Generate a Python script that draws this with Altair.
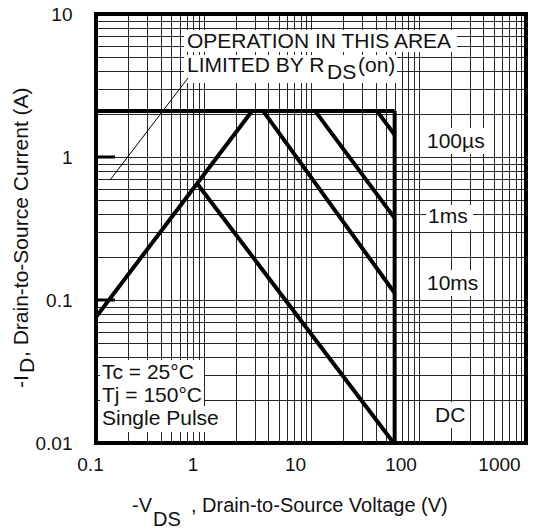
import altair as alt
import pandas as pd

# ---------------- data ----------------
limit_current = 2.1          # A, horizontal current limit
limit_voltage = 60           # V, vertical voltage limit
rds_v = [0.1, 2.83]
rds_i = [0.076, 2.1]
us100_v = [41, 60]
us100_i = [2.1, 1.43]
ms1_v = [10.9, 60]
ms1_i = [2.1, 0.374]
ms10_v = [3.58, 60]
ms10_i = [2.1, 0.112]
dc_v = [0.89, 60]
dc_i = [0.64, 0.0098]
leader_v = [0.135, 0.718]
leader_i = [0.69, 3.57]
x_tick_labels = [0.1, 1, 10, 100, 1000]
y_tick_labels = [0.01, 0.1, 1, 10]
major_tick_y = [0.1, 1]

# grid positions (1..9 per decade)
x_grid = [round(m * 10.0 ** e, 6) for e in range(-1, 3) for m in range(1, 10)] + [1000]
y_grid = [round(m * 10.0 ** e, 6) for e in range(-2, 1) for m in range(1, 10)] + [10]

# ---------------- layout / style ----------------
OX, OY = 96, 14        # plot origin in the page
W, H = 430, 429
FONT = "Liberation Sans"
INK = "#111111"

rows = []
for name, vs, cs in [("rds", rds_v, rds_i), ("100us", us100_v, us100_i),
                     ("1ms", ms1_v, ms1_i), ("10ms", ms10_v, ms10_i),
                     ("dc", dc_v, dc_i)]:
    for k, (v, c) in enumerate(zip(vs, cs)):
        rows.append({"series": name, "v": v, "i": c, "k": k})
lines_df = pd.DataFrame(rows)
leader_df = pd.DataFrame({"v": leader_v, "i": leader_i})

xs = alt.Scale(type="log", domain=[0.1, 1000], nice=False)
ys = alt.Scale(type="log", domain=[0.01, 10], nice=False)

x_axis = alt.Axis(
    values=x_grid, title=None, grid=True, gridColor="black", gridWidth=1, gridOpacity=0.85,
    ticks=False, domain=False, format="~g",
    labelExpr="indexof([0.1,1,10,100,1000], datum.value) >= 0 ? datum.label : ''",
    labelFont=FONT, labelFontSize=19, labelColor=INK, labelPadding=12,
    labelOverlap=False, labelFlush=False,
    labelOffset={"condition": [
        {"test": "datum.value < 0.5", "value": -6},
        {"test": "datum.value < 5", "value": -11},
        {"test": "datum.value < 50", "value": -16},
        {"test": "datum.value < 500", "value": -18}], "value": -27},
)
y_axis = alt.Axis(
    values=y_grid, title=None, grid=True, gridColor="black", gridWidth=1, gridOpacity=0.85,
    ticks=False, domain=False, format="~g",
    labelExpr="indexof([0.01,0.1,1,10], datum.value) >= 0 ? datum.label : ''",
    labelFont=FONT, labelFontSize=19, labelColor=INK, labelPadding=24,
    labelOverlap=False, labelFlush=False,
)

# white boxes behind annotation text (page coordinates)
boxes = [(184, 30, 457, 52), (184, 55, 397, 83),
         (100, 360, 204, 383), (100, 383, 204, 406), (100, 406, 222, 432),
         (423, 128, 486, 154), (426, 205, 473, 230), (424, 270, 481, 296),
         (432, 402, 469, 428)]
box_df = pd.DataFrame([{"x": a - OX, "y": b - OY, "x2": c - OX, "y2": d - OY}
                       for a, b, c, d in boxes])

texts = [("OPERATION IN THIS AREA", 187, 48), ("LIMITED BY R", 187, 72),
         ("DS", 327, 79), ("(on)", 358, 72),
         ("100µs", 427, 148), ("1ms", 428, 223), ("10ms", 427, 290), ("DC", 435, 422),
         ("Tc = 25°C", 102, 379), ("Tj = 150°C", 102, 402), ("Single Pulse", 102, 425)]
text_df = pd.DataFrame([{"t": t, "x": x - OX, "y": y - OY} for t, x, y in texts])

xtitle = [("-V", 132, 512), ("DS", 153, 526), (", Drain-to-Source Voltage (V)", 191, 512)]
xtitle_df = pd.DataFrame([{"t": t, "x": x - OX, "y": y - OY} for t, x, y in xtitle])

ytexts = [("-I", 28, 388), ("D", 34, 373), (", Drain-to-Source Current (A)", 28, 357)]
ytext_df = pd.DataFrame([{"t": t, "x": x - OX, "y": y - OY} for t, x, y in ytexts])

# ---------------- layers ----------------
base = alt.Chart(lines_df).mark_line(color="black", strokeWidth=4, clip=True).encode(
    x=alt.X("v:Q", scale=xs, axis=x_axis),
    y=alt.Y("i:Q", scale=ys, axis=y_axis),
    detail="series:N",
    order="k:Q",
)

hlimit = alt.Chart(pd.DataFrame({"v0": [0.1], "v1": [limit_voltage], "i": [limit_current]})).mark_rule(
    color="black", strokeWidth=4).encode(x="v0:Q", x2="v1:Q", y="i:Q")
vlimit = alt.Chart(pd.DataFrame({"v": [limit_voltage], "i0": [0.01], "i1": [limit_current]})).mark_rule(
    color="black", strokeWidth=4).encode(x="v:Q", y="i0:Q", y2="i1:Q")

majors = alt.Chart(pd.DataFrame({"i": major_tick_y})).mark_rule(color="black", strokeWidth=3).encode(
    y="i:Q", x=alt.value(0), x2=alt.value(19))

boxes_layer = alt.Chart(box_df).mark_rect(color="white").encode(
    x=alt.X("x:Q", scale=None), x2="x2:Q", y=alt.Y("y:Q", scale=None), y2="y2:Q")

leader = alt.Chart(leader_df).mark_line(color="black", strokeWidth=1).encode(x="v:Q", y="i:Q")

text_layer = alt.Chart(text_df).mark_text(
    align="left", baseline="alphabetic", font=FONT, fontSize=21, color=INK).encode(
    x=alt.X("x:Q", scale=None), y=alt.Y("y:Q", scale=None), text="t:N")

xtitle_layer = alt.Chart(xtitle_df).mark_text(
    align="left", baseline="alphabetic", font=FONT, fontSize=20, color=INK).encode(
    x=alt.X("x:Q", scale=None), y=alt.Y("y:Q", scale=None), text="t:N")

ytext_layer = alt.Chart(ytext_df).mark_text(
    align="left", baseline="alphabetic", font=FONT, fontSize=21, color=INK, angle=270).encode(
    x=alt.X("x:Q", scale=None), y=alt.Y("y:Q", scale=None), text="t:N")

chart = alt.layer(base, hlimit, vlimit, majors, boxes_layer, leader,
                  text_layer, xtitle_layer, ytext_layer).properties(
    width=W, height=H,
    autosize=alt.AutoSizeParams(type="none"),
    padding={"left": OX, "top": OY, "right": 550 - OX - W, "bottom": 529 - OY - H},
    background="white",
).configure_view(stroke="black", strokeWidth=4)

chart.save("out.html", embed_options={"renderer": "svg", "actions": False})
